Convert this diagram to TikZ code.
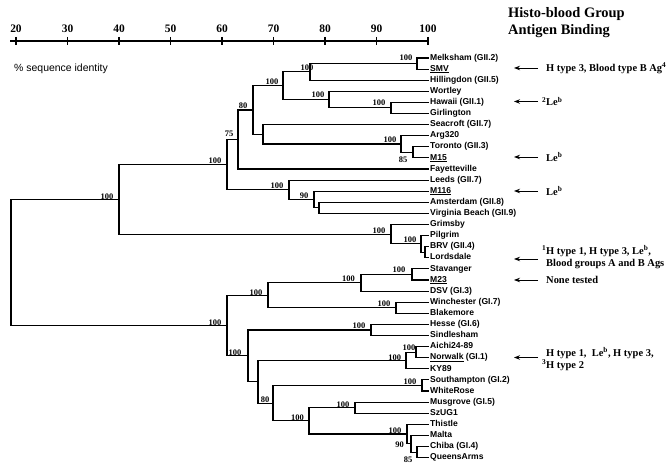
\documentclass[tikz,border=0pt]{standalone}
\usepackage{fontspec}
\setmainfont{Liberation Serif}
\setsansfont{Liberation Sans}
\usetikzlibrary{arrows.meta}
\newcommand\myul[1]{\setbox0\hbox{#1}\rlap{\rule[-2bp]{\wd0}{1bp}}\box0\relax}
\begin{document}
\begin{tikzpicture}[x=1bp,y=-1bp,
  br/.style={line width=1.1bp, line join=miter},
  leaf/.style={font=\sffamily\bfseries\fontsize{8.6}{9}\selectfont, anchor=west, inner sep=1.5bp, text height=6.2bp, text depth=1.8bp},
  bs/.style={font=\bfseries\fontsize{8.5}{9}\selectfont, inner sep=0pt},
  ann/.style={font=\bfseries\fontsize{10.5}{12.6}\selectfont, anchor=west, inner sep=0pt, align=left},
  arr/.style={line width=0.9bp, -{Stealth[length=6bp,width=4.5bp]}},
  tickline/.style={line width=1.1bp},
  axlab/.style={font=\bfseries\fontsize{11.5}{12}\selectfont, anchor=base, inner sep=0pt},
  titletext/.style={font=\bfseries\fontsize{14.5}{16}\selectfont, anchor=base west, inner sep=0pt},
]
\useasboundingbox (0,0) rectangle (671,467);

% axis
\coordinate (axL) at (10,41);
\coordinate (axR) at (428,41);
\draw[tickline] (axL) -- (axR);
\foreach \v [evaluate=\v as \xx using 16+5.15*(\v-20)] in {20,30,...,100} {
  \coordinate (t\v) at (\xx,41);
  \draw[tickline] ([yshift=4bp]t\v) -- ([yshift=-4bp]t\v);
  \node[axlab] (n\v) at (\xx,33) {\v};
}
\node[font=\sffamily\fontsize{10.5}{12}\selectfont, anchor=base west, inner sep=0pt] (pct) at (14,71.5) {\% sequence identity};
\node[titletext] (title1) at (508,18) {Histo-blood Group};
\node[titletext] (title2) at (508,35) {Antigen Binding};

% leaves
\foreach \n/\y/\t in {
  Melksham/58.0/{Melksham (GII.2)},
  SMV/69.1/{\myul{SMV}},
  Hillingdon/80.2/{Hillingdon (GII.5)},
  Wortley/91.3/{Wortley},
  Hawaii/102.4/{Hawaii (GII.1)},
  Girlington/113.5/{Girlington},
  Seacroft/124.6/{Seacroft (GII.7)},
  Arg/135.7/{Arg320},
  Toronto/146.8/{Toronto (GII.3)},
  MXV/157.9/{\myul{M15}},
  Fayetteville/169.0/{Fayetteville},
  Leeds/180.1/{Leeds (GII.7)},
  MCXVI/191.2/{\myul{M116}},
  Amsterdam/202.3/{Amsterdam (GII.8)},
  Virginia/213.4/{Virginia Beach (GII.9)},
  Grimsby/224.5/{Grimsby},
  Pilgrim/235.6/{Pilgrim},
  BRV/246.7/{BRV (GII.4)},
  Lordsdale/257.8/{Lordsdale},
  Stavanger/268.9/{Stavanger},
  MXXIII/280.0/{\myul{M23}},
  DSV/291.1/{DSV (GI.3)},
  Winchester/302.2/{Winchester (GI.7)},
  Blakemore/313.3/{Blakemore},
  Hesse/324.4/{Hesse (GI.6)},
  Sindlesham/335.5/{Sindlesham},
  Aichi/346.6/{Aichi24-89},
  Norwalk/357.7/{\myul{Norwalk} (GI.1)},
  KY/368.8/{KY89},
  Southampton/379.9/{Southampton (GI.2)},
  WhiteRose/391.0/{WhiteRose},
  Musgrove/402.1/{Musgrove (GI.5)},
  SzUG/413.2/{SzUG1},
  Thistle/424.3/{Thistle},
  Malta/435.4/{Malta},
  Chiba/446.5/{Chiba (GI.4)},
  QueensArms/457.6/{QueensArms}} {
  \node[leaf] (\n) at (428.5,\y) {\t};
}

% internal nodes
\coordinate (A) at (417,63.55);
\coordinate (B) at (310,71.9);
\coordinate (D) at (391,107.95);
\coordinate (C) at (329,99.6);
\coordinate (E) at (283,85.75);
\coordinate (F) at (413,152.35);
\coordinate (G) at (401,144.0);
\coordinate (H) at (263,134.3);
\coordinate (I) at (253,110.0);
\coordinate (J) at (238,139.5);
\coordinate (K) at (319,207.85);
\coordinate (L) at (314,199.5);
\coordinate (M) at (289,189.8);
\coordinate (N) at (227,164.65);
\coordinate (P) at (425,252.25);
\coordinate (Q) at (421,243.9);
\coordinate (R) at (391,234.2);
\coordinate (S) at (119,199.4);
\coordinate (U) at (412,274.45);
\coordinate (V) at (361,282.8);
\coordinate (W) at (396,307.75);
\coordinate (X) at (268,295.3);
\coordinate (Y) at (371,329.95);
\coordinate (ZA) at (416,352.15);
\coordinate (ZB) at (406,360.5);
\coordinate (ZC) at (422,385.45);
\coordinate (ZD) at (355,407.65);
\coordinate (ZE) at (417,452.05);
\coordinate (ZF) at (411,443.7);
\coordinate (ZG) at (407,434.0);
\coordinate (ZH) at (309,420.8);
\coordinate (ZI) at (273,403.1);
\coordinate (ZJ) at (258,381.8);
\coordinate (ZK) at (248,355.9);
\coordinate (T) at (227,325.6);
\coordinate (root) at (11,262.5);

\foreach \p/\c in {root/S, root/T, S/N, S/R, N/J, N/M, J/I, J/Fayetteville,
  I/E, I/H, E/B, E/C, B/A, B/Hillingdon, A/Melksham, A/SMV, C/Wortley, C/D,
  D/Hawaii, D/Girlington, H/Seacroft, H/G, G/Arg, G/F, F/Toronto, F/MXV,
  M/Leeds, M/L, L/MCXVI, L/K, K/Amsterdam, K/Virginia, R/Grimsby, R/Q,
  Q/Pilgrim, Q/P, P/BRV, P/Lordsdale, T/X, T/ZK, X/V, X/W, V/U, V/DSV,
  U/Stavanger, U/MXXIII, W/Winchester, W/Blakemore, ZK/Y, ZK/ZJ, Y/Hesse,
  Y/Sindlesham, ZJ/ZB, ZJ/ZI, ZB/ZA, ZB/KY, ZA/Aichi, ZA/Norwalk, ZI/ZC,
  ZI/ZH, ZC/Southampton, ZC/WhiteRose, ZH/ZD, ZH/ZG, ZD/Musgrove, ZD/SzUG,
  ZG/Thistle, ZG/ZF, ZF/Malta, ZF/ZE, ZE/Chiba, ZE/QueensArms} {
  \draw[br] (\p) |- (\c);
}

% bootstrap values
\foreach \n/\x/\y/\t in {A/406/57.3/100, B/307/67.3/100, E/272/81.7/100,
  C/318/95/100, D/379/102.7/100, I/243/106/80, J/229/133.3/75, G/390/139.3/100,
  F/403/160/85, N/215/160.7/100, M/277/185.7/100, L/304/195.7/90,
  R/379/230.7/100, Q/410/240/100, S/107/196.7/100, U/399/270/100,
  V/348.5/279/100, X/256/292.3/100, W/384/304/100, T/215/322.7/100,
  Y/359/326/100, ZA/409/347.7/100, ZB/394.7/357.3/100, ZK/235/352.7/100,
  ZC/410/381.7/100, ZI/265/399.3/80, ZD/343/404.3/100, ZH/297.5/417.7/100,
  ZG/395/431/100, ZF/399.5/444.3/90, ZE/408/459.3/85} {
  \node[bs] (b\n) at (\x,\y) {\t};
}

% annotations
\node[ann] (a1) at (546,68) {H type 3, Blood type B Ag\textsuperscript{4}};
\node[ann] (a2) at (546,101.5) {\llap{\textsuperscript{2}}Le\textsuperscript{b}};
\node[ann] (a3) at (546,157) {Le\textsuperscript{b}};
\node[ann] (a4) at (546,191) {Le\textsuperscript{b}};
\node[ann] (a5) at (546,257) {\llap{\textsuperscript{1}}H type 1, H type 3, Le\textsuperscript{b},\\Blood groups A and B Ags};
\node[ann] (a6) at (546,280) {None tested};
\node[ann] (a7) at (546,359) {H type 1,\ \ Le\textsuperscript{b}, H type 3,\\\llap{\textsuperscript{3}}H type 2};

\coordinate (h1) at (514,68);
\coordinate (h2) at (514,101.5);
\coordinate (h3) at (514,157);
\coordinate (h4) at (514,191);
\coordinate (h5) at (514,259);
\coordinate (h6) at (514,280);
\coordinate (h7) at (514,357.5);
\foreach \i in {1,...,7} {
  \draw[arr] ([xshift=-8bp]a\i.west |- h\i) -- (h\i);
}
\end{tikzpicture}
\end{document}
